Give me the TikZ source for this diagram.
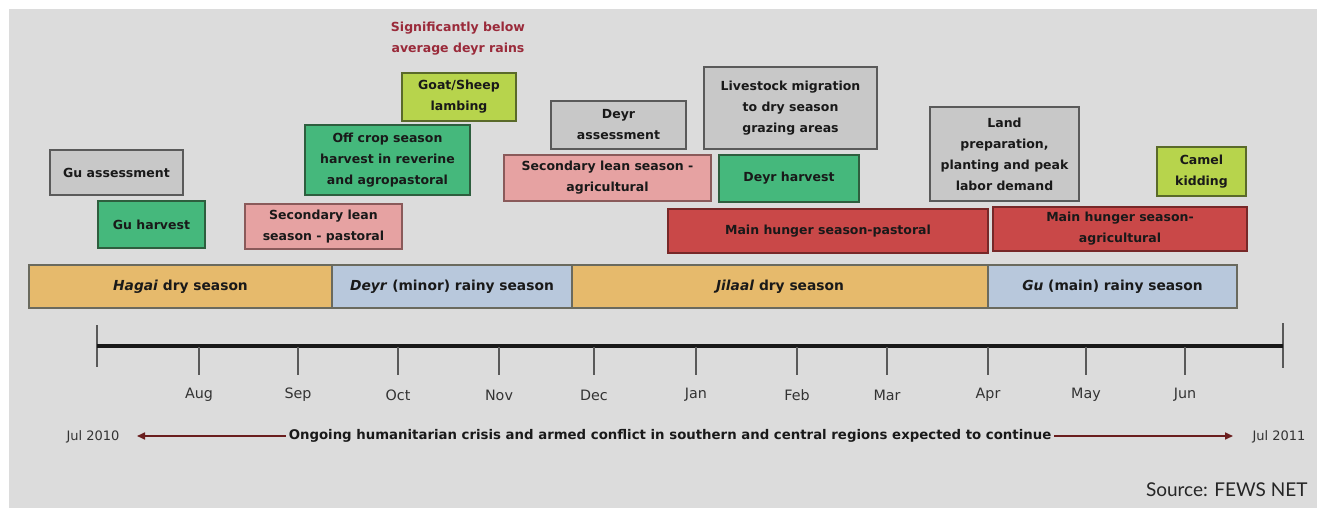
\documentclass[tikz,border=0pt]{standalone}
\usepackage{fontspec}
\setmainfont{DejaVu Sans}
\newfontfamily\srcfont{Lato}
\usetikzlibrary{arrows.meta}
\definecolor{bg}{HTML}{DCDCDC}
\definecolor{grayf}{HTML}{C8C8C8}
\definecolor{grayd}{HTML}{5A5A5A}
\definecolor{greenf}{HTML}{45B87C}
\definecolor{greend}{HTML}{2E5E3E}
\definecolor{pinkf}{HTML}{E6A2A2}
\definecolor{pinkd}{HTML}{8A5A5A}
\definecolor{limef}{HTML}{B7D44C}
\definecolor{limed}{HTML}{5A6A2A}
\definecolor{redf}{HTML}{C94848}
\definecolor{redd}{HTML}{772828}
\definecolor{orangef}{HTML}{E6BA6C}
\definecolor{bluef}{HTML}{B8C8DC}
\definecolor{barline}{HTML}{6A6A5E}
\definecolor{arrowc}{HTML}{6A1E1E}
\definecolor{noteRed}{HTML}{9A2A3A}
\tikzset{
  evbox/.style={draw, line width=1.6pt, align=center, inner sep=2pt,
    font=\fontsize{12.5}{21}\selectfont\bfseries, text=black!90},
  graybox/.style={evbox, fill=grayf, draw=grayd},
  greenbox/.style={evbox, fill=greenf, draw=greend},
  pinkbox/.style={evbox, fill=pinkf, draw=pinkd},
  limebox/.style={evbox, fill=limef, draw=limed},
  redbox/.style={evbox, fill=redf, draw=redd},
  seasonbar/.style={draw=barline, line width=1.2pt, inner sep=0pt,
    minimum height=43pt, font=\fontsize{13.8}{17}\selectfont\bfseries, text=black!90},
  monthlbl/.style={font=\fontsize{14.3}{16}\selectfont, text=black!80},
  tickline/.style={draw=black!65, line width=1.4pt},
  crisisarrow/.style={draw=arrowc, line width=1.6pt, -{Triangle[length=8pt,width=7pt]}}
}
\begin{document}
\begin{tikzpicture}[x=1pt,y=-1pt]
\useasboundingbox (0,0) rectangle (1325,516);
\fill[white] (0,0) rectangle (1325,516);
\fill[bg] (9,9) rectangle (1317,508);

% note
\node[font=\fontsize{12.5}{21}\selectfont\bfseries, text=noteRed, align=center] (note) at (458,39) {Significantly below\\average deyr rains};

% event boxes
\node[graybox, minimum width=133pt, minimum height=45pt] (guass) at (116.5,172.5) {Gu assessment};
\node[greenbox, minimum width=107pt, minimum height=47pt] (guharv) at (151.5,224.5) {Gu harvest};
\node[pinkbox, minimum width=157pt, minimum height=45pt] (leanpast) at (323.5,226.5) {Secondary lean\\season - pastoral};
\node[greenbox, minimum width=165pt, minimum height=70pt] (offcrop) at (387.5,160) {Off crop season\\harvest in reverine\\and agropastoral};
\node[limebox, minimum width=114pt, minimum height=48pt] (lambing) at (459,97) {Goat/Sheep\\lambing};
\node[graybox, minimum width=135pt, minimum height=48pt] (deyrass) at (618.5,125) {Deyr\\assessment};
\node[pinkbox, minimum width=207pt, minimum height=46pt] (leanagri) at (607.5,178) {Secondary lean season -\\agricultural};
\node[graybox, minimum width=173pt, minimum height=82pt] (migr) at (790.5,108) {Livestock migration\\to dry season\\grazing areas};
\node[greenbox, minimum width=140pt, minimum height=47pt] (deyrharv) at (789,178.5) {Deyr harvest};
\node[redbox, minimum width=320pt, minimum height=44pt] (hungpast) at (828,231) {Main hunger season-pastoral};
\node[graybox, minimum width=149pt, minimum height=94pt] (landprep) at (1004.5,154) {Land\\preparation,\\planting and peak\\labor demand};
\node[limebox, minimum width=89pt, minimum height=49pt] (camel) at (1201.5,171.5) {Camel\\kidding};
\node[redbox, minimum width=254pt, minimum height=44pt] (hungagri) at (1120,229) {Main hunger season-\\agricultural};

% seasons
\node[seasonbar, fill=orangef, minimum width=303pt] (hagai) at (180.5,286.5) {\textit{Hagai} dry season};
\node[seasonbar, fill=bluef, minimum width=240pt] (deyr) at (452,286.5) {\textit{Deyr} (minor) rainy season};
\node[seasonbar, fill=orangef, minimum width=416pt] (jilaal) at (780,286.5) {\textit{Jilaal} dry season};
\node[seasonbar, fill=bluef, minimum width=249pt] (gu) at (1112.5,286.5) {\textit{Gu} (main) rainy season};

% timeline
\coordinate (tlstart) at (97,346);
\coordinate (tlend) at (1283,346);
\draw[tickline] (97,325) -- (97,367);
\draw[tickline] (1283,323) -- (1283,368);
\draw[line width=4pt, black!90] (tlstart) -- (tlend);
\foreach \x/\m in {199/Aug,298/Sep,398/Oct,499/Nov,594/Dec,696/Jan,797/Feb,887/Mar,988/Apr,1086/May,1185/Jun} {
  \draw[tickline] (\x,347) -- (\x,375);
  \node[monthlbl] (m\m) at (\x,395) {\m};
}

% crisis line
\node[font=\fontsize{13}{15}\selectfont, text=black!80] (jul10) at (93,437) {Jul 2010};
\node[font=\fontsize{13}{15}\selectfont, text=black!80] (jul11) at (1279,437) {Jul 2011};
\node[font=\fontsize{13.3}{15}\selectfont\bfseries, text=black!90, inner sep=3pt] (crisis) at (670,436) {Ongoing humanitarian crisis and armed conflict in southern and central regions expected to continue};
\coordinate (leftend) at (137,436);
\coordinate (rightend) at (1233,436);
\draw[crisisarrow] (crisis.west) -- (leftend);
\draw[crisisarrow] (crisis.east) -- (rightend);

\node[font=\srcfont\fontsize{19}{20}\selectfont, text=black!85, anchor=east] (source) at (1311,490) {Source: FEWS NET};
\end{tikzpicture}
\end{document}
